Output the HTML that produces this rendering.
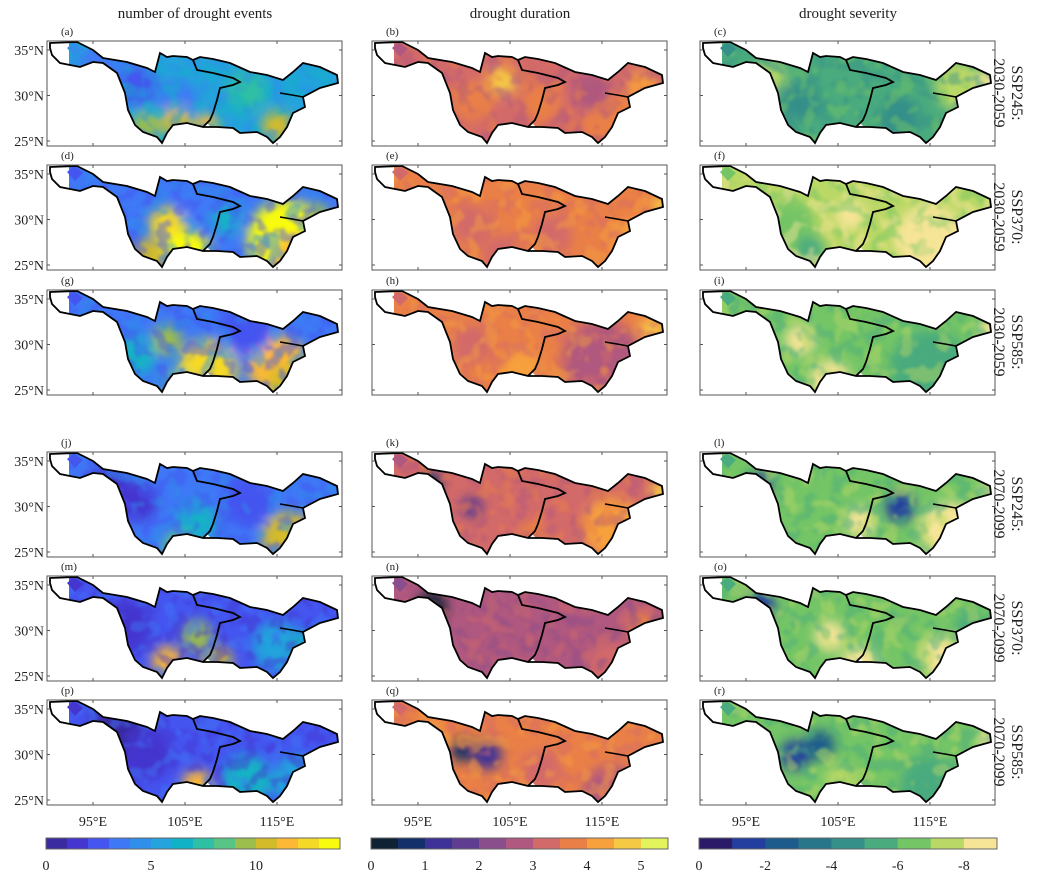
<!DOCTYPE html>
<html><head><meta charset="utf-8"><style>
body{margin:0;background:#fff}
svg text{font-family:"Liberation Serif",serif;fill:#222}
</style></head><body>
<svg id="fig" xmlns="http://www.w3.org/2000/svg" width="1037" height="876" viewBox="0 0 1037 876">
<defs><filter id="bl" x="-20%" y="-20%" width="140%" height="140%"><feGaussianBlur stdDeviation="6"/></filter>
<filter id="tx1" x="0" y="0" width="100%" height="100%"><feTurbulence type="fractalNoise" baseFrequency="0.07" numOctaves="2" seed="3"/><feColorMatrix type="matrix" values="0 0 0 0 0  0 0 0 0 0  0 0 0 0 0  0 0 0 9 -4.6"/><feGaussianBlur stdDeviation="1.2"/><feComposite in="SourceGraphic" operator="in"/></filter>
<filter id="tx2" x="0" y="0" width="100%" height="100%"><feTurbulence type="fractalNoise" baseFrequency="0.06" numOctaves="2" seed="11"/><feColorMatrix type="matrix" values="0 0 0 0 0  0 0 0 0 0  0 0 0 0 0  0 0 0 9 -4.8"/><feGaussianBlur stdDeviation="1.2"/><feComposite in="SourceGraphic" operator="in"/></filter>
</defs>
<text x="195" y="18" font-size="15" text-anchor="middle">number of drought events</text>
<text x="520" y="18" font-size="15" text-anchor="middle">drought duration</text>
<text x="848" y="18" font-size="15" text-anchor="middle">drought severity</text>
</svg>
<script>
const NS="http://www.w3.org/2000/svg";
const svg=document.getElementById('fig');
function mk(t,a,p){const e=document.createElementNS(NS,t);for(const k in a)e.setAttribute(k,a[k]);(p||svg).appendChild(e);return e;}
const pal1=["#3a2ba0","#4536cf","#4555f0","#3f78f7","#2f8fe9","#24a3dc","#12b2c6","#2ebfa4","#58c587","#9bbe4d","#d4bb2a","#fdb935","#f5d927","#f9fb0e"];
const pal2=["#0e2233","#14306a","#3e3197","#5f3d91","#8a4e8d","#b0587f","#d36a6a","#ea8047","#f7a13d","#f5c944","#e3f35b"];
const pal3=["#2b1a68","#243ea0","#1d5b8c","#27768a","#36908a","#4aab7e","#74c566","#bad866","#f7e597"];
const pals=[pal1,pal2,pal3];
const cbTicks1=[0,5,10], cbTicks2=[0,1,2,3,4,5], cbTicks3=[0,-2,-4,-6,-8];
const cbMax=[14,5.5,-9];
const letters="abcdefghijklmnopqr";
const rowLabels=[["SSP245:","2030-2059"],["SSP370:","2030-2059"],["SSP585:","2030-2059"],["SSP245:","2070-2099"],["SSP370:","2070-2099"],["SSP585:","2070-2099"]];
const bases=[[5,6,5],[3,7,7],[3,7,6],[3,6,6],[2,5,6],[2,7,6]];
const blobs=[
[[[60,30,30,3],[90,45,20,2],[130,60,20,3],[130,80,15,10],[160,85,12,11],[230,85,15,10],[200,50,20,7],[260,45,15,5],[100,85,15,9]],
 [[100,60,20,7],[170,60,20,7],[240,80,30,7],[270,45,15,8],[130,40,15,9],[220,50,20,5]],
 [[100,60,20,4],[70,35,15,7],[200,75,20,4],[260,45,25,7],[290,40,12,8]]],
[[[120,60,18,12],[140,90,25,13],[240,75,40,13],[250,95,25,11],[100,95,20,10],[180,55,15,6],[270,50,12,9],[150,40,15,3]],
 [[100,60,20,6],[180,70,20,6],[260,75,20,8],[290,40,10,9],[130,90,20,6]],
 [[90,60,25,6],[150,50,15,8],[230,75,35,8],[280,50,15,7],[110,85,15,5]]],
[[[120,50,15,9],[90,65,20,6],[160,80,30,12],[230,75,30,11],[240,95,20,10],[200,40,25,2],[130,95,15,8]],
 [[230,70,40,5],[100,55,20,6],[150,80,20,8],[280,40,12,9]],
 [[230,80,40,5],[100,50,15,8],[130,90,20,8],[290,40,12,8]]],
[[[60,40,25,1],[90,50,20,1],[200,50,25,2],[150,70,20,6],[240,85,25,10],[270,75,15,11],[130,95,15,8]],
 [[60,30,10,1],[100,55,10,2],[160,85,15,7],[240,75,30,8],[290,40,12,9]],
 [[60,32,12,1],[200,55,15,1],[160,70,15,8],[250,80,30,8],[290,40,10,8]]],
[[[150,60,15,9],[120,85,15,11],[170,85,15,10],[230,70,25,5],[260,70,15,6],[80,50,25,1]],
 [[60,30,15,0],[240,90,25,6],[150,80,20,5],[270,50,15,7]],
 [[60,30,15,1],[130,60,15,8],[160,90,20,8],[240,80,20,8],[270,50,15,5]]],
[[[70,35,30,0],[100,55,25,1],[200,80,25,6],[250,80,25,5],[150,85,15,11]],
 [[60,30,10,8],[90,50,12,1],[115,55,15,2],[240,95,30,5],[170,70,20,6]],
 [[95,55,15,1],[120,45,15,2],[230,85,30,5],[290,40,12,8],[140,80,15,7]]]];
const outline=[[50,43],[77,42],[93,50],[103,58],[127,62],[147,68],[155,72],[160,53],[167,57],[173,56],[187,57],[193,60],[200,57],[213,59],[230,63],[250,72],[267,75],[283,80],[293,72],[303,63],[320,67],[337,75],[338,83],[320,88],[303,97],[305,107],[293,113],[287,127],[280,137],[273,143],[267,137],[257,132],[240,133],[233,128],[217,127],[203,127],[187,123],[173,125],[167,133],[162,143],[157,137],[143,132],[135,125],[128,110],[125,93],[117,73],[103,63],[93,62],[80,67],[60,63],[52,55],[50,48]];
const inner=[[193,60],[197,70],[213,73],[233,78],[240,82],[233,85],[220,88],[217,100],[213,113],[210,120],[203,127]];
const inner2=[[280,93],[292,95],[303,97]];
const rowTops=[41,165,290,452,576,700], colLefts=[47,372,700], W=295, H=105;
function pts(a,ox,oy){return a.map(p=>(p[0]-47+ox)+","+(p[1]-41+oy)).join(" ");}
let id=0;
for(let r=0;r<6;r++)for(let c=0;c<3;c++){
  const x0=colLefts[c],y0=rowTops[r];id++;
  const g=mk('g',{});
  
  
  const cp=mk('clipPath',{id:'cp'+id},g);
  mk('polygon',{points:pts(outline,x0,y0)},cp);
  const fill=mk('g',{'clip-path':'url(#cp'+id+')'},g);
  const bi=bases[r][c],P=pals[c];
  mk('rect',{x:x0+20,y:y0,width:W-20,height:H,fill:P[bi]},fill);
  const bg=mk('g',{filter:'url(#bl)'},fill);
  blobs[r][c].forEach(b=>{const e=mk('circle',{cx:x0+b[0],cy:y0+b[1],r:b[2],fill:P[b[3]]},bg);
    });
  mk('rect',{x:x0,y:y0,width:W,height:H,fill:P[Math.max(0,bi-1)],opacity:0.45,filter:'url(#tx1)'},fill);
  mk('rect',{x:x0,y:y0,width:W,height:H,fill:P[Math.min(P.length-1,bi+1)],opacity:0.45,filter:'url(#tx2)'},fill);
  mk('rect',{x:x0,y:y0,width:22,height:H,fill:'#fff'},fill);
  mk('polygon',{points:`${x0+20},${y0+7} ${x0+27},${y0+1} ${x0+36},${y0+8} ${x0+28},${y0+16}`,fill:P[Math.max(0,bi-1)]},fill);
  mk('polygon',{points:`${x0+155},${y0+87} ${x0+160},${y0+82} ${x0+165},${y0+87} ${x0+160},${y0+92}`,fill:'#fff'},g);
  mk('polygon',{points:pts(outline,x0,y0),fill:'none',stroke:'#000','stroke-width':1.8},g);
  mk('polyline',{points:pts(inner,x0,y0),fill:'none',stroke:'#000','stroke-width':1.8},g);
  mk('polyline',{points:pts(inner2,x0,y0),fill:'none',stroke:'#000','stroke-width':1.5},g);
  mk('rect',{x:x0,y:y0,width:W,height:H,fill:'none',stroke:'#555','stroke-width':1},g);
  [95,105,115].forEach(l=>{const xx=x0+(l-90)*9.2;
    mk('line',{x1:xx,y1:y0,x2:xx,y2:y0+3,stroke:'#555'},g);mk('line',{x1:xx,y1:y0+H,x2:xx,y2:y0+H-3,stroke:'#555'},g);});
  [25,30,35].forEach(l=>{const yy=y0+9+(35-l)*9.1;
    mk('line',{x1:x0,y1:yy,x2:x0+3,y2:yy,stroke:'#555'},g);mk('line',{x1:x0+W,y1:yy,x2:x0+W-3,y2:yy,stroke:'#555'},g);
    if(c===0){const t=mk('text',{x:x0-3,y:yy+5,'font-size':14,'text-anchor':'end'},g);t.textContent=l+"°N";
      }});
  const lt=mk('text',{x:x0+14,y:y0-6,'font-size':11},g);lt.textContent="("+letters[r*3+c]+")";
  
  if(r===5){[95,105,115].forEach(l=>{const t=mk('text',{x:x0+(l-90)*9.2,y:826,'font-size':14,'text-anchor':'middle'},g);t.textContent=l+"°E";
    });}
}
for(let r=0;r<6;r++){const cy=rowTops[r]+52;
  const t=mk('text',{transform:`translate(1012,${cy}) rotate(90)`,'font-size':16,'text-anchor':'middle'});
  
  
  t.textContent=rowLabels[r][0];
  const t2=mk('text',{transform:`translate(994,${cy}) rotate(90)`,'font-size':16,'text-anchor':'middle'});
  
  
  t2.textContent=rowLabels[r][1];}
const cbW=[294,297,298],ticksAll=[cbTicks1,cbTicks2,cbTicks3];
for(let c=0;c<3;c++){const x0=colLefts[c]-1,p=pals[c],n=p.length,w=cbW[c];
  const g=mk('g',{});
  
  
  for(let i=0;i<n;i++){mk('rect',{x:x0+i*w/n,y:838,width:w/n+0.5,height:11,fill:p[i]},g);}
  mk('rect',{x:x0,y:838,width:w,height:11,fill:'none',stroke:'#666'},g);
  ticksAll[c].forEach(v=>{const xx=x0+v/cbMax[c]*w;
    const t=mk('text',{x:xx,y:870,'font-size':14,'text-anchor':'middle'},g);t.textContent=v;
    });}
</script>
</body></html>
